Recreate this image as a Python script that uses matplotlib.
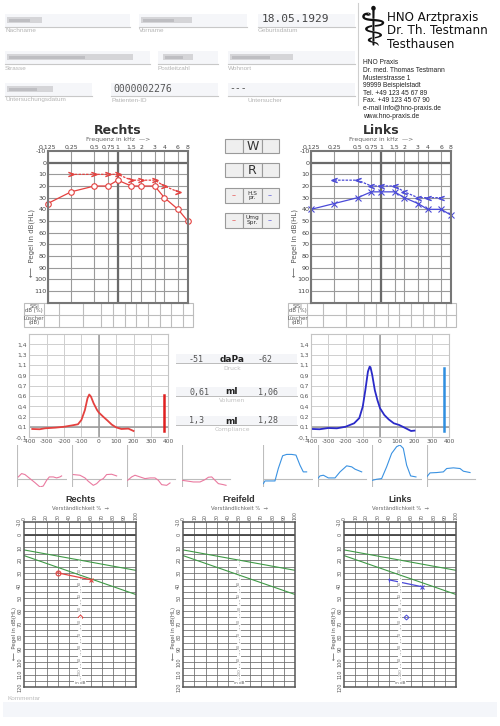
import numpy as np
import matplotlib
matplotlib.use("Agg")
import matplotlib.pyplot as plt
from matplotlib.patches import Rectangle

W, H = 500, 726

# ---- Tonaudiogramm ----
freqs = [0.125, 0.25, 0.5, 0.75, 1, 1.5, 2, 3, 4, 6, 8]
freq_labels = ["0,125", "0,25", "0,5", "0,75", "1", "1,5", "2", "3", "4", "6", "8"]
right_air = [35, 25, 20, 20, 15, 20, 20, 20, 30, 40, 50]
left_air = [40, 35, 30, 25, 25, 25, 30, 35, 40, 40, 45]
bone_freqs = [0.25, 0.5, 0.75, 1, 1.5, 2, 3, 4, 6]
right_bone = [10, 10, 10, 10, 15, 15, 15, 20, 25]
left_bone = [15, 15, 20, 20, 20, 25, 30, 30, 30]

# ---- Tympanogramm ----
tymp_labels = ["-0,1", "0,1", "0,2", "0,4", "0,6", "0,7", "0,9", "1,1", "1,3", "1,4"]
right_p = [-383, -340, -310, -250, -200, -150, -120, -100, -80, -65, -55, -45, -30, -10,
           0, 25, 50, 75, 100, 130, 170, 200]
right_v = [0.034, 0.03, 0.045, 0.056, 0.07, 0.094, 0.11, 0.18, 0.34, 0.53, 0.59, 0.556,
           0.45, 0.34, 0.30, 0.233, 0.17, 0.104, 0.06, 0.034, 0.04, 0.002]
left_p = [-390, -350, -300, -250, -200, -150, -120, -100, -85, -70, -60, -55, -45, -30,
          -15, 0, 25, 50, 80, 110, 150, 180, 200]
left_v = [0.034, 0.03, 0.05, 0.045, 0.07, 0.126, 0.21, 0.395, 0.66, 0.96, 1.04, 1.03,
          0.905, 0.66, 0.50, 0.37, 0.26, 0.19, 0.126, 0.10, 0.045, 0.002, 0.008]
right_bar = (377, 0.58)
left_bar = (373, 1.02)
druck = ("-51", "-62")
volumen = ("0,61", "1,06")
compliance = ("1,3", "1,28")

# ---- Reflexe (kleine Kurven) ----
reflex_right = [
    ([3, 13, 23, 38, 53, 68, 78, 88, 96, 108, 118, 128, 133],
     [5, 15, 12, 0, -12, -25, -22, -5, 5, 5, 2, 5, 8]),
    ([3, 23, 38, 48, 63, 73, 83, 93, 103, 118, 133],
     [12, 10, 2, -8, -20, -15, -5, 0, 12, 13, 8]),
    ([2, 14, 24, 39, 54, 69, 84, 94, 104, 119, 129],
     [-5, 5, 10, 5, 0, 2, 2, -5, -18, -20, -13]),
    ([0, 15, 35, 55, 70, 80, 90, 100, 110, 125, 133],
     [-5, -7, -10, -10, -3, 4, 5, -5, -15, -18, -20]),
]
reflex_left = [
    ([0, 5, 20, 35, 45, 58, 70, 85, 98, 110, 120, 130],
     [-15, -7, -7, -7, 30, 68, 72, 72, 70, 40, 20, 20]),
    ([0, 7, 17, 32, 52, 67, 87, 102, 112, 132],
     [0, 8, 10, 2, 2, 20, 38, 35, 28, 20]),
    ([0, 13, 28, 43, 58, 73, 83, 93, 103, 115, 131],
     [-5, -2, 0, 35, 75, 95, 100, 90, 40, 8, 5]),
    ([0, 10, 30, 50, 60, 80, 100, 110, 130],
     [5, 17, 18, 20, 30, 32, 30, 22, 18]),
]

# ---- Sprachaudiogramm ----
green_a = ([0, 100], [12, 28])
green_b = ([0, 100], [16.5, 47])
speech_right_pct = [30, 60]
speech_right_db = [30, 35.5]
speech_right_pt = (50, 65)
speech_left_pct = [40, 70]
speech_left_db = [35.5, 41]
speech_left_pt = (55, 65)

RED = "#e4413f"
BLUE = "#4a4ad8"
TBLUE = "#2a2ac8"
BARBLUE = "#2f8fe0"
PINK = "#ea7aa0"
LBLUE = "#3a92e2"
GREEN = "#3f9a46"

fig = plt.figure(figsize=(W / 100, H / 100), dpi=100)
bg = fig.add_axes([0, 0, 1, 1])
bg.set_xlim(0, W)
bg.set_ylim(H, 0)
bg.axis("off")


def px_axes(x0, y0, x1, y1):
    return fig.add_axes([x0 / W, 1 - y1 / H, (x1 - x0) / W, (y1 - y0) / H])


def t(x, y, s, **kw):
    kw.setdefault("va", "center")
    bg.text(x, y, s, **kw)


LBL = dict(fontsize=4.6, color="#b4b4b4", family="Liberation Sans")


def field(x0, x1, yb, label, lx=None):
    bg.add_patch(Rectangle((x0, yb - 13), x1 - x0, 13, color="#f5f6f9", lw=0))
    bg.plot([x0, x1], [yb, yb], color="#c8c8c8", lw=0.8)
    t(x0 if lx is None else lx, yb + 4, label, **LBL)


def smudge(x0, x1, y):
    bg.add_patch(Rectangle((x0, y - 3), x1 - x0, 6, color="#cdcdd0", lw=0, alpha=0.8))
    bg.add_patch(Rectangle((x0 + 2, y - 1.5), (x1 - x0) * 0.6, 3, color="#a9a9ad", lw=0, alpha=0.5))


# ---------- Kopf ----------
field(5, 130, 27, "Nachname")
smudge(7, 42, 20)
field(139, 247, 27, "Vorname")
smudge(141, 192, 20)
field(258, 355, 27, "Geburtsdatum")
t(262, 19.5, "18.05.1929", fontsize=8, family="DejaVu Sans Mono", color="#444")
field(5, 150, 64, "Strasse")
smudge(7, 133, 57)
field(158, 218, 64, "Postleitzahl")
smudge(163, 193, 57)
field(228, 355, 64, "Wohnort")
smudge(230, 293, 57)
field(5, 92, 96, "Untersuchungsdatum")
smudge(7, 53, 89)
field(111, 218, 96, "Patienten-ID")
t(113, 88.5, "0000002276", fontsize=7, family="DejaVu Sans Mono", color="#555")
field(228, 355, 96, "Untersucher", lx=248)
t(229, 88.5, "---", fontsize=7, family="DejaVu Sans Mono", color="#555")
bg.plot([358, 358], [3, 105], color="#cfcfcf", lw=0.8)

t(373, 29, "\u2695", fontsize=38, family="DejaVu Sans", color="#111", ha="center")
for i, s in enumerate(["HNO Arztpraxis", "Dr. Th. Testmann", "Testhausen"]):
    t(387, 17 + 14 * i, s, fontsize=8.6, color="#111", family="DejaVu Sans")
addr = ["HNO Praxis", "Dr. med. Thomas Testmann", "Musterstrasse 1", "99999 Beispielstadt",
        "Tel. +49 123 45 67 89", "Fax. +49 123 45 67 90", "e-mail info@hno-praxis.de",
        "www.hno-praxis.de"]
for i, s in enumerate(addr):
    t(363, 63 + 7.6 * i, s, fontsize=4.8, color="#222", family="Liberation Sans")


# ---------- Tonaudiogramme ----------
def audiogram(x0, x1, tx0, title, air, bone, col, am, bm):
    ax = px_axes(x0, 151, x1, 302.7)
    lf = np.log2(freqs)
    ax.set_xlim(-3, 3)
    ax.set_ylim(120, -10)
    for v in lf:
        ax.axvline(v, color="#9a9a9a", lw=0.8)
    for d in range(10, 120, 10):
        ax.axhline(d, color="#9a9a9a", lw=0.8)
    ax.axhline(0, color="#6a6a6a", lw=1.6)
    ax.axvline(0, color="#6a6a6a", lw=1.6)
    for sp in ax.spines.values():
        sp.set_color("#777")
        sp.set_linewidth(1.5)
    ax.xaxis.tick_top()
    ax.set_xticks(lf)
    ax.set_xticklabels(freq_labels, fontsize=4.4, color="#444")
    ax.set_yticks(range(-10, 120, 10))
    ax.set_yticklabels([str(d) for d in range(-10, 120, 10)], fontsize=4.6, color="#444")
    ax.tick_params(length=0, pad=1)
    ax.plot(lf, air, color=col, lw=0.9, marker=am, mfc="white", mec=col, ms=4, mew=0.8,
            clip_on=False)
    ax.plot(np.log2(bone_freqs), bone, color=col, lw=0.9, ls=(0, (2, 1)), marker=bm,
            mfc=col, mec=col, ms=4, mew=0.5)
    cx = (x0 + x1) / 2
    t(cx, 130, title, fontsize=9, weight="bold", color="#333", ha="center")
    t(cx, 139.5, "Frequenz in kHz  \u2014>", fontsize=4.4, color="#666", ha="center")
    t(x0 - 16, 243, "\u27f5  Pegel in dB(HL)", fontsize=5, color="#555", rotation=90,
      ha="center")
    # SISI / Luescher table
    px = lambda f: x0 + (np.log2(f) + 3) / 6 * (x1 - x0)
    ya, yb_, yc = 302.7, 314.5, 326.7
    bg.add_patch(Rectangle((tx0, ya), x1 + 5 - tx0, yc - ya, fill=False, ec="#bdbdbd", lw=0.8))
    bg.plot([tx0, x1 + 5], [yb_, yb_], color="#bdbdbd", lw=0.8)
    bg.plot([x0 - 3.7] * 2, [ya, yc], color="#bdbdbd", lw=0.8)
    for a, b in zip(freqs[:-1], freqs[1:]):
        xm = px(np.sqrt(a * b))
        bg.plot([xm, xm], [ya, yc], color="#bdbdbd", lw=0.8)
    t((tx0 + x0 - 3.7) / 2, 308.5, "SISI\ndB (%)", fontsize=3.8, color="#555", ha="center",
      linespacing=0.8)
    t((tx0 + x0 - 3.7) / 2, 320.5, "L\u00fcscher\n(dB)", fontsize=3.8, color="#555",
      ha="center", linespacing=0.8)


audiogram(47.7, 187.7, 24, "Rechts", right_air, right_bone, RED, "o", r"$>$")
audiogram(311, 451, 287.7, "Links", left_air, left_bone, BLUE, "x", r"$<$")

# ---------- Mitte: Knoepfe ----------
rows = [(139, 153.3, "W", None), (162.7, 177.3, "R", None),
        (188.3, 202.7, "H.S\npr.", "--"), (212.7, 227.7, "Umg\nSpr.", "--")]
cells = [225, 243.3, 261.7, 279.3]
for y0, y1, lab, dash in rows:
    for i in range(3):
        bg.add_patch(Rectangle((cells[i], y0), cells[i + 1] - cells[i], y1 - y0,
                               fc="#efefef", ec="#9a9a9a", lw=0.8))
    big = len(lab) == 1
    t((cells[1] + cells[2]) / 2, (y0 + y1) / 2, lab, fontsize=9 if big else 4.2,
      color="#333", ha="center", linespacing=0.85)
    if dash:
        t((cells[0] + cells[1]) / 2, (y0 + y1) / 2, dash, fontsize=5, color=RED, ha="center")
        t((cells[2] + cells[3]) / 2, (y0 + y1) / 2, dash, fontsize=5, color=BLUE, ha="center")


# ---------- Tympanogramme ----------
def tymp(x0, x1, p, v, col, bar, barcol):
    step = 1.5 / 9
    ax = px_axes(x0, 334, x1, 437.3)
    ax.set_xlim(-400, 400)
    ax.set_ylim(-0.1, -0.1 + 10 * step)
    yt = -0.1 + step * np.arange(10)
    ax.set_yticks(yt)
    ax.set_yticklabels(tymp_labels, fontsize=4.3, color="#555")
    ax.set_xticks(range(-400, 401, 100))
    ax.set_xticklabels([str(x) for x in range(-400, 401, 100)], fontsize=4.3, color="#555")
    ax.tick_params(length=0, pad=1.5)
    ax.grid(color="#cfcfcf", lw=0.7)
    ax.axvline(0, color="#999", lw=1.1)
    ax.axhline(yt[1], color="#999", lw=1.1)
    for sp in ax.spines.values():
        sp.set_color("#c4c4c4")
    ax.plot(p, v, color=col, lw=1.3)
    ax.plot([bar[0], bar[0]], [0, bar[1]], color=barcol, lw=1.8)


tymp(29.3, 168.3, right_p, right_v, RED, right_bar, "#e02020")
tymp(311, 449, left_p, left_v, TBLUE, left_bar, BARBLUE)

mid_rows = [(359, "daPa", druck, "Druck"), (392, "ml", volumen, "Volumen"),
            (421, "ml", compliance, "Compliance")]
for y, unit, vals, lab in mid_rows:
    t(189, y, vals[0], fontsize=6, family="DejaVu Sans Mono", color="#555")
    t(232, y, unit, fontsize=6.5, weight="bold", color="#222", ha="center")
    t(258, y, vals[1], fontsize=6, family="DejaVu Sans Mono", color="#555")
    bg.add_patch(Rectangle((176, y - 5), 121, 8.5, color="#f4f5f8", lw=0, zorder=0))
    bg.plot([176, 297], [y + 4, y + 4], color="#bbb", lw=0.7)
    t(232, y + 9, lab, fontsize=4.3, color="#c0c0c0", ha="center")


# ---------- Reflexkurven ----------
def reflex(left, xs, ys, col):
    ax = px_axes(left, 445, left + 50, 487)
    ax.set_xlim(0, 150)
    ax.set_ylim(-25, 100)
    ax.axis("off")
    ax.plot([0, 0], [-25, 100], color="#bdbdbd", lw=0.8)
    ax.plot([0, 145], [0, 0], color="#bdbdbd", lw=0.8)
    ax.plot(xs, ys, color=col, lw=0.8)


for left, (xs, ys) in zip([17.3, 72.3, 127, 181.7], reflex_right):
    reflex(left, xs, ys, PINK)
for left, (xs, ys) in zip([263.3, 317.7, 372.3, 426.7], reflex_left):
    reflex(left, xs, ys, LBLUE)


# ---------- Sprachaudiogramme ----------
def speech(x0, x1, title, pct=None, db=None, pt=None, col=None, ms=None):
    ax = px_axes(x0, 522, x1, 687.3)
    ax.set_xlim(0, 100)
    ax.set_ylim(120, -10)
    for d in range(-5, 120, 5):
        ax.axhline(d, color="#6a6a6a", lw=0.55)
    for q in range(10, 100, 10):
        ax.axvline(q, color="#6a6a6a", lw=0.55)
    ax.axhline(0, color="#444", lw=1.3)
    for sp in ax.spines.values():
        sp.set_color("#555")
        sp.set_linewidth(1.1)
    ax.plot([50, 50], [18, 118], color="white", lw=2.6)
    ax.plot([50, 50], [18, 118], color="#aaa", lw=0.5, ls=(0, (2, 2)))
    for i, d in enumerate(range(28, 118, 10)):
        ax.text(50, d, str(20 + 10 * i), fontsize=3, color="#888", rotation=90,
                ha="center", va="center", bbox=dict(fc="white", ec="none", pad=0.2))
    ax.text(50, 117, "in dB", fontsize=3, color="#666", ha="center", va="center",
            bbox=dict(fc="white", ec="none", pad=0.2))
    ax.plot(*green_a, color=GREEN, lw=0.8)
    ax.plot(*green_b, color=GREEN, lw=0.8)
    ax.xaxis.tick_top()
    ax.set_xticks(range(0, 101, 10))
    ax.set_xticklabels([str(q) for q in range(0, 101, 10)], fontsize=3.4, color="#555",
                       rotation=90)
    ax.set_yticks(range(-10, 121, 10))
    ax.set_yticklabels([str(d) for d in range(-10, 121, 10)], fontsize=3.6, color="#555",
                       rotation=90, va="center")
    ax.tick_params(length=0, pad=1.5)
    if pct is not None:
        ax.plot(pct, db, color=col, lw=0.9)
        ax.plot(pct[0], db[0], marker=ms[0], color=col, mfc="none", ms=3.5, mew=0.8)
        ax.plot(pct[1], db[1], marker="x", color=col, ms=3.5, mew=0.8)
        ax.plot(*pt, marker="D", color=col, mfc="none", ms=2.5, mew=0.7)
    cx = (x0 + x1) / 2
    t(cx, 500, title, fontsize=6.5, weight="bold", color="#333", ha="center",
      family="Liberation Sans")
    t(cx, 509, "Verst\u00e4ndlichkeit %  \u2192", fontsize=3.8, color="#666", ha="center")
    t(x0 - 10, 633, "\u27f5  Pegel in dB(HL)", fontsize=4, color="#555", rotation=90,
      ha="center")


speech(24.3, 135.7, "Rechts", speech_right_pct, speech_right_db, speech_right_pt, RED, "o")
speech(183.3, 295, "Freifeld")
speech(344.3, 456, "Links", speech_left_pct, speech_left_db, speech_left_pt, BLUE, "|")

t(7, 699, "Kommentar", fontsize=4.6, color="#bbb", family="Liberation Sans")
bg.add_patch(Rectangle((3, 702), 494, 15, color="#f4f6fa", lw=0))

fig.savefig("out.png", dpi=100)
